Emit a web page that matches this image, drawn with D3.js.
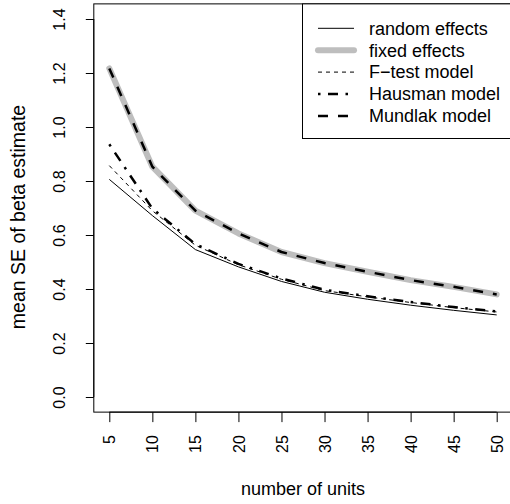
<!DOCTYPE html>
<html>
<head>
<meta charset="utf-8">
<script src="https://cdn.jsdelivr.net/npm/d3@7"></script>
<style>
  body { margin: 0; background: #fff; }
  svg { display: block; font-family: "Liberation Sans", Arial, sans-serif; }
</style>
</head>
<body>
<svg id="chart" width="510" height="504"></svg>
<script>
// number of units
const units = [5, 10, 15, 20, 25, 30, 35, 40, 45, 50];
const yTicks = [0, 0.2, 0.4, 0.6, 0.8, 1.0, 1.2, 1.4];

// mean SE of beta estimate, one array per model
const randomEffects = [0.806, 0.672, 0.546, 0.482, 0.428, 0.388, 0.362, 0.340, 0.321, 0.304];
const fixedEffects  = [1.217, 0.853, 0.690, 0.606, 0.537, 0.496, 0.464, 0.433, 0.408, 0.380];
const fTestModel    = [0.857, 0.690, 0.562, 0.490, 0.436, 0.394, 0.371, 0.350, 0.331, 0.315];
const hausmanModel  = [0.936, 0.698, 0.566, 0.493, 0.439, 0.397, 0.373, 0.352, 0.333, 0.317];
const mundlakModel  = [1.217, 0.853, 0.690, 0.606, 0.537, 0.496, 0.464, 0.433, 0.408, 0.380];

const series = [
    {name: "random effects", values: randomEffects, color: "#000", width: 1, dash: null},
    {name: "fixed effects", values: fixedEffects, color: "#bebebe", width: 6, dash: null, cap: "round"},
    {name: "F\u2212test model", values: fTestModel, color: "#000", width: 1, dash: "4,4"},
    {name: "Hausman model", values: hausmanModel, color: "#000", width: 2.5, dash: "2.5,7.5,10,7.5"},
    {name: "Mundlak model", values: mundlakModel, color: "#000", width: 2.5, dash: "10,10"}
];

const svg = d3.select("#chart");

const x = d3.scaleLinear().domain([5, 50]).range([109.3, 496.7]);
const y = d3.scaleLinear().domain([0, 1.4]).range([397, 19]);

// R-style 4% padded plot region
const x0 = x(3.2), x1 = x(51.8), yTop = y(1.456), yBot = y(-0.056);

const line = d3.line()
    .x((d, i) => x(units[i]))
    .y(d => y(d));

const plot = svg.append("g");
series.forEach(s => {
    plot.append("path")
        .attr("fill", "none")
        .attr("stroke", s.color)
        .attr("stroke-width", s.width)
        .attr("stroke-linejoin", "round")
        .attr("stroke-linecap", s.cap || "butt")
        .attr("stroke-dasharray", s.dash)
        .attr("d", line(s.values));
});

// box
svg.append("rect")
    .attr("x", x0).attr("y", yTop)
    .attr("width", x1 - x0).attr("height", yBot - yTop)
    .attr("fill", "none").attr("stroke", "#000").attr("stroke-width", 1);

// x axis
const xAxis = svg.append("g")
    .attr("transform", `translate(0, ${yBot})`)
    .call(d3.axisBottom(x).tickValues(units).tickSize(10).tickFormat(d3.format("d")));
xAxis.select(".domain").attr("d", `M${x(5)},0H${x(50)}`);
xAxis.selectAll("text")
    .attr("font-size", 16)
    .attr("font-family", "Liberation Sans, Arial, sans-serif")
    .attr("transform", "rotate(-90)")
    .attr("text-anchor", "end")
    .attr("x", -23)
    .attr("y", 0)
    .attr("dy", "0.35em");

// y axis
const yAxis = svg.append("g")
    .attr("transform", `translate(${x0}, 0)`)
    .call(d3.axisLeft(y).tickValues(yTicks).tickSize(8).tickFormat(d3.format(".1f")));
yAxis.select(".domain").attr("d", `M0,${y(0)}V${y(1.4)}`);
yAxis.selectAll("text")
    .attr("font-size", 16)
    .attr("font-family", "Liberation Sans, Arial, sans-serif")
    .attr("transform", "rotate(-90)")
    .attr("text-anchor", "middle")
    .attr("x", 0)
    .attr("y", -34)
    .attr("dy", "0.35em");

// axis titles
svg.append("text")
    .attr("x", (x0 + x1) / 2).attr("y", 495)
    .attr("text-anchor", "middle")
    .attr("font-size", 18)
    .text("number of units");

svg.append("text")
    .attr("transform", `translate(25, 217) rotate(-90)`)
    .attr("text-anchor", "middle")
    .attr("font-size", 19.5)
    .text("mean SE of beta estimate");

// legend
const legend = svg.append("g");
legend.append("rect")
    .attr("x", 302.5).attr("y", yTop)
    .attr("width", 209).attr("height", 138.5 - yTop)
    .attr("fill", "#fff").attr("stroke", "#000");

series.forEach((s, i) => {
    const ly = 28.3 + i * 21.9;
    legend.append("line")
        .attr("x1", 318).attr("x2", 354)
        .attr("y1", ly).attr("y2", ly)
        .attr("stroke", s.color)
        .attr("stroke-width", s.width)
        .attr("stroke-linecap", s.cap || "butt")
        .attr("stroke-dasharray", s.dash);
    legend.append("text")
        .attr("x", 369).attr("y", ly)
        .attr("dy", "0.35em")
        .attr("font-size", 18)
        .text(s.name);
});
</script>
</body>
</html>
